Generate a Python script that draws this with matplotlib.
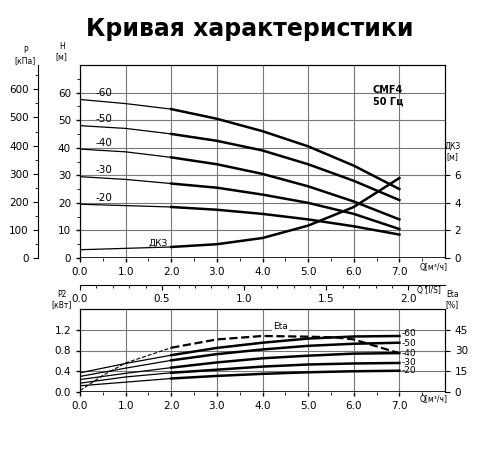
import matplotlib
matplotlib.use("Agg")
import matplotlib.pyplot as plt
import numpy as np

Q = [0, 1, 2, 3, 4, 5, 6, 7]
labels = ["-60", "-50", "-40", "-30", "-20"]
H = [[57.5, 56, 54, 50.5, 46, 40.5, 33.5, 25],
     [48, 47, 45, 42.5, 39, 34, 28, 21],
     [39.5, 38.5, 36.5, 34, 30.5, 26, 20.5, 14],
     [29.5, 28.5, 27, 25.5, 23, 20, 16, 10.5],
     [19.5, 19, 18.5, 17.5, 16, 14, 11.5, 8.5]]
NPSH = [0.6, 0.7, 0.8, 1.0, 1.45, 2.35, 3.7, 5.8]
P2 = [[0.37, 0.55, 0.71, 0.85, 0.95, 1.03, 1.07, 1.08],
      [0.30, 0.46, 0.61, 0.73, 0.82, 0.89, 0.93, 0.95],
      [0.24, 0.36, 0.47, 0.57, 0.65, 0.70, 0.74, 0.75],
      [0.17, 0.29, 0.37, 0.43, 0.49, 0.53, 0.55, 0.56],
      [0.12, 0.19, 0.26, 0.31, 0.35, 0.38, 0.40, 0.41]]
Qeta = [0, 0.5, 1, 2, 3, 4, 5, 5.6, 6, 7]
Eta = [1, 12, 21, 32, 38, 40.5, 40, 39.5, 38, 28]

fig = plt.figure(figsize=(5, 4.5), dpi=100)
fig.text(0.5, 0.92, "Кривая характеристики", ha="center", fontsize=17, fontweight="bold")
W, Hf = 500, 450
def rect(x0, y0, x1, y1):
    return [x0 / W, 1 - y1 / Hf, (x1 - x0) / W, (y1 - y0) / Hf]

gc = "#777777"
def style(ax):
    ax.spines["bottom"].set_visible(False)
    ax.tick_params(labelsize=7.5, length=3, width=1)
    ax.set_xlim(0, 8)
    ax.set_xticks(np.arange(0, 7.1, 1))
    ax.set_xticklabels([f"{v:.1f}" for v in np.arange(0, 7.1, 1)])
    ax.set_xticks(np.arange(0, 8, 0.5), minor=True)
    ax.grid(True, color=gc, lw=0.8)

# top axes
ax = fig.add_axes(rect(80, 65, 445, 258))
style(ax)
ax.set_ylim(0, 70)
ax.set_yticks(range(0, 61, 10))
ax.set_yticks(range(0, 70, 5), minor=True)
ax.axhline(0, color="k", lw=1.2)
for lab, h in zip(labels, H):
    ax.plot(Q[:3], h[:3], color="k", lw=0.9)
    ax.plot(Q[2:], h[2:], color="k", lw=1.8)
    ax.text(0.35, h[0] + 1.2, lab, fontsize=7.5)
ax.text(6.75, 59, "CMF4\n50 Гц", fontsize=7, fontweight="bold", ha="center", va="center")
ax.text(1.5, 4.5, "ДКЗ", fontsize=6.5)
ax.text(-0.05, 1.02, "H\n[м]", transform=ax.transAxes, fontsize=5.5, ha="center", va="bottom")
axr = ax.twinx()
axr.set_ylim(0, 14)
axr.set_yticks([0, 2, 4, 6])
axr.tick_params(labelsize=7.5)
axr.spines["bottom"].set_visible(False)
axr.plot(Q[:3], NPSH[:3], color="k", lw=0.9)
axr.plot(Q[2:], NPSH[2:], color="k", lw=1.8)
axr.text(1.02, 0.5, "ДКЗ\n[м]", transform=ax.transAxes, fontsize=5.5, ha="center", va="bottom")
# pressure axis
axp = ax.twinx()
axp.spines["right"].set_visible(False)
axp.spines["top"].set_visible(False)
axp.spines["bottom"].set_visible(False)
axp.spines["left"].set_position(("outward", 30))
axp.yaxis.set_ticks_position("left")
axp.set_ylim(0, 70 * 9.81)
axp.set_yticks(range(0, 601, 100))
axp.set_yticks(range(0, 680, 50), minor=True)
axp.tick_params(labelsize=7.5)
axp.text(-0.15, 1.0, "P\n[кПа]", transform=ax.transAxes, fontsize=5.5, ha="center", va="bottom")
ax.text(8.05, -4.5, "Q[м³/ч]", fontsize=5.5, ha="right")
# l/s axis
axl = fig.add_axes(rect(80, 285, 445, 286))
axl.set_xlim(0, 8 / 3.6)
for s in ["left", "right", "bottom"]:
    axl.spines[s].set_visible(False)
axl.set_yticks([])
axl.xaxis.set_ticks_position("top")
axl.tick_params(axis="x", direction="in", labeltop=False, labelbottom=True, labelsize=7.5, pad=6)
axl.set_xticks([0, 0.5, 1.0, 1.5, 2.0])
axl.set_xticklabels(["0.0", "0.5", "1.0", "1.5", "2.0"])
axl.set_xticks(np.arange(0, 2.2, 0.1), minor=True)
axl.tick_params(axis="x", which="minor", direction="in")
axl.text(2.2, -0.5, "Q [l/S]", fontsize=5.5, ha="right", va="top", transform=axl.get_xaxis_transform())

# bottom axes
bx = fig.add_axes(rect(80, 309, 445, 392))
style(bx)
bx.set_ylim(0, 1.6)
bx.set_yticks([0, 0.4, 0.8, 1.2])
bx.set_yticklabels(["0.0", "0.4", "0.8", "1.2"])
bx.axhline(0, color="k", lw=1.2)
nudge = [0.04, -0.01, 0, 0, 0]
for lab, p, dn in zip(labels, P2, nudge):
    bx.plot(Q[:3], p[:3], color="k", lw=0.9)
    bx.plot(Q[2:], p[2:], color="k", lw=1.8)
    bx.text(7.05, p[-1] + dn, lab, fontsize=6.5, va="center")
bx.text(-0.05, 1.0, "P2\n[кВт]", transform=bx.transAxes, fontsize=5.5, ha="center", va="bottom")
bx.text(8.05, -0.2, "Q[м³/ч]", fontsize=5.5, ha="right")
bxr = bx.twinx()
bxr.set_ylim(0, 60)
bxr.set_yticks([0, 15, 30, 45])
bxr.tick_params(labelsize=7.5)
bxr.spines["bottom"].set_visible(False)
bxr.plot(Qeta[:4], Eta[:4], "k--", lw=0.8)
bxr.plot(Qeta[3:], Eta[3:], "k--", lw=1.6)
bxr.text(4.4, 45.5, "Eta", fontsize=6.5, ha="center", bbox=dict(fc="white", ec="none", pad=1))
bxr.text(1.02, 1.0, "Eta\n[%]", transform=bx.transAxes, fontsize=5.5, ha="center", va="bottom")

fig.savefig("out.png", dpi=100)
